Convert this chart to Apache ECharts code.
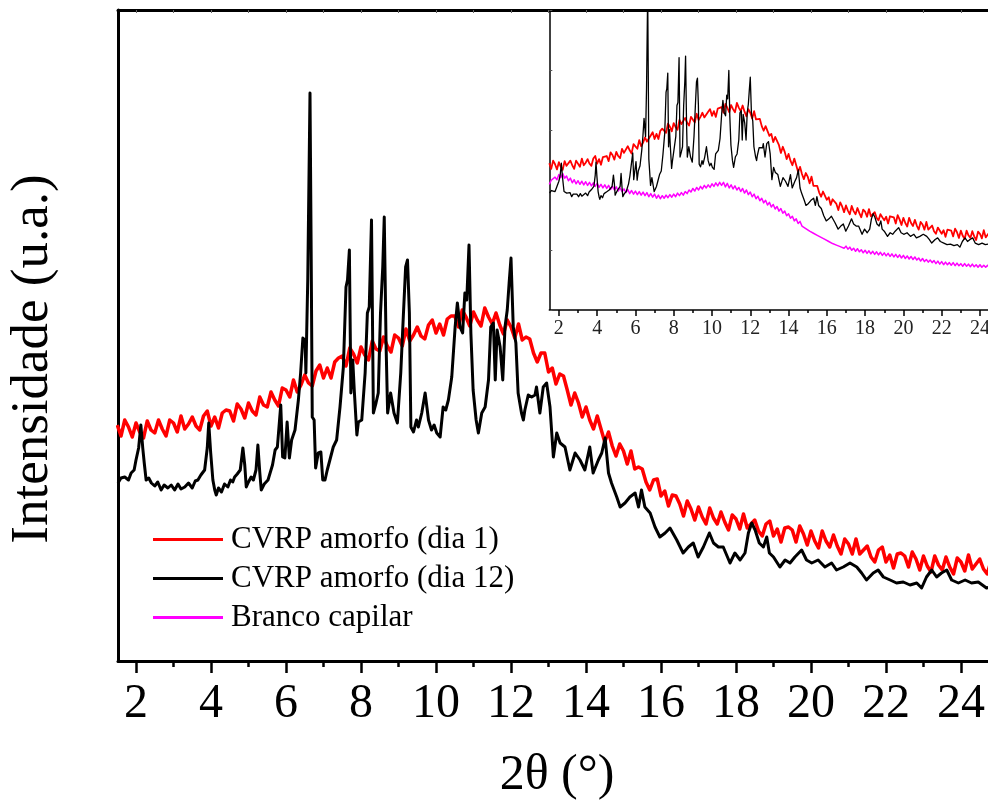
<!DOCTYPE html>
<html>
<head>
<meta charset="utf-8">
<script src="https://cdn.jsdelivr.net/npm/echarts@6/dist/echarts.min.js"></script>
<style>
  html, body { margin: 0; padding: 0; background: #fff; }
  #chart { width: 988px; height: 801px; }
</style>
</head>
<body>
<div id="chart"></div>
<script>
// Diffractograms: 2θ in degrees, intensity in arbitrary units
const angleStart = 1.5;   // first 2θ of the evenly sampled scans
const angleStep = 0.1;

// CVRP amorfo (dia 1), 1.5° .. 24.9° every 0.1°
const cvrpDay1 = [
  285, 274, 290, 283, 273, 287, 278, 272, 289, 280,
  277, 290, 281, 274, 290, 287, 278, 294, 281, 286,
  293, 284, 280, 294, 299, 284, 293, 282, 297, 300,
  299, 289, 306, 301, 292, 307, 299, 295, 313, 305,
  303, 318, 310, 304, 322, 320, 313, 330, 318, 325,
  335, 327, 324, 339, 345, 332, 342, 332, 348, 352,
  354, 344, 362, 356, 347, 363, 355, 350, 369, 361,
  359, 373, 364, 358, 375, 372, 364, 381, 369, 375,
  383, 374, 371, 385, 390, 377, 386, 375, 391, 394,
  394, 383, 400, 393, 384, 398, 390, 384, 402, 393,
  386, 397, 385, 376, 390, 383, 372, 386, 370, 373,
  371, 357, 348, 357, 357, 338, 342, 326, 336, 334,
  320, 305, 317, 307, 293, 303, 290, 281, 294, 281,
  268, 278, 264, 254, 266, 259, 246, 259, 241, 243,
  241, 228, 220, 230, 231, 214, 219, 204, 215, 214,
  206, 194, 209, 201, 190, 203, 193, 186, 202, 192,
  186, 198, 188, 180, 195, 191, 181, 196, 182, 186,
  190, 179, 174, 186, 189, 174, 181, 168, 182, 183,
  180, 168, 184, 176, 165, 179, 169, 162, 179, 169,
  163, 175, 164, 156, 171, 166, 156, 171, 156, 160,
  164, 153, 148, 160, 163, 148, 155, 142, 156, 157,
  154, 143, 158, 151, 140, 154, 144, 138, 154, 145,
  140, 153, 143, 136, 152, 148, 139, 155, 141, 146,
  151, 141, 136, 149, 153
];

// Branco capilar, same sampling
const blankCapillary = [
  244, 252, 249, 258, 253, 263, 257, 265, 256, 260,
  251, 256, 247, 253, 245, 251, 244, 250, 243, 249,
  242, 248, 241, 247, 240, 246, 238, 244, 237, 243,
  236, 242, 234, 240, 233, 239, 231, 237, 230, 235,
  228, 234, 226, 232, 225, 231, 224, 230, 223, 229,
  222, 228, 220, 226, 219, 225, 217, 223, 216, 222,
  217, 223, 218, 224, 219, 225, 220, 227, 222, 228,
  223, 230, 226, 233, 229, 236, 231, 238, 233, 240,
  235, 242, 237, 243, 238, 245, 240, 247, 241, 248,
  242, 248, 239, 246, 237, 243, 235, 241, 233, 238,
  230, 236, 227, 233, 224, 229, 220, 225, 216, 221,
  212, 217, 208, 213, 204, 209, 200, 205, 196, 201,
  192, 197, 188, 192, 183, 187, 178, 182, 173, 177,
  168, 172, 163, 166, 158, 161, 153, 156, 149, 151,
  145, 148, 141, 144, 137, 140, 133, 136, 129, 132,
  126, 129, 123, 126, 120, 124, 118, 122, 116, 120,
  114, 119, 113, 117, 111, 116, 110, 115, 109, 114,
  108, 113, 107, 112, 106, 111, 105, 110, 104, 109,
  103, 108, 102, 107, 101, 106, 100, 105, 99, 104,
  98, 103, 97, 101, 95, 100, 94, 98, 93, 97,
  92, 96, 90, 95, 89, 94, 88, 93, 88, 92,
  87, 92, 86, 91, 86, 90, 85, 90, 85, 89,
  84, 89, 84, 88, 83, 88, 83, 87, 83, 87,
  82, 87, 82, 86, 82
];

// CVRP amorfo (dia 12): unevenly sampled so the sharp reflections keep their tops
const cvrpDay12Angles = [
  1.52, 1.6, 1.7, 1.8, 1.87, 1.95, 2.0, 2.07, 2.13, 2.18, 2.22, 2.27, 2.34, 2.41, 2.5, 2.58,
  2.67, 2.75, 2.85, 2.94, 3.03, 3.12, 3.2, 3.3, 3.4, 3.5, 3.58, 3.65, 3.73, 3.83, 3.9, 3.94,
  3.99, 4.05, 4.1, 4.14, 4.2, 4.28, 4.36, 4.45, 4.52, 4.58, 4.63, 4.7, 4.78, 4.85, 4.9, 4.94,
  5.0, 5.07, 5.13, 5.2, 5.25, 5.3, 5.34, 5.42, 5.52, 5.57, 5.64, 5.71, 5.77, 5.86, 5.91, 5.97,
  6.03, 6.09, 6.15, 6.24, 6.33, 6.39, 6.45, 6.51, 6.53, 6.58, 6.64, 6.67, 6.7, 6.75, 6.79, 6.86,
  6.93, 6.98, 7.04, 7.1, 7.17, 7.26, 7.35, 7.44, 7.53, 7.6, 7.64, 7.69, 7.73, 7.78, 7.82, 7.89,
  7.93, 8.02, 8.11, 8.17, 8.22, 8.28, 8.33, 8.4, 8.46, 8.52, 8.58, 8.62, 8.67, 8.71, 8.79, 8.88,
  8.97, 9.06, 9.13, 9.19, 9.24, 9.29, 9.33, 9.4, 9.48, 9.53, 9.62, 9.71, 9.8, 9.88, 9.95, 10.02,
  10.11, 10.19, 10.26, 10.33, 10.42, 10.51, 10.57, 10.64, 10.71, 10.77, 10.82, 10.88, 10.93, 10.99, 11.07, 11.13,
  11.22, 11.31, 11.4, 11.46, 11.53, 11.58, 11.63, 11.71, 11.78, 11.84, 11.9, 11.95, 12.0, 12.06, 12.13, 12.19,
  12.28, 12.33, 12.37, 12.46, 12.55, 12.64, 12.68, 12.77, 12.86, 12.95, 13.04, 13.13, 13.22, 13.31, 13.44, 13.57,
  13.71, 13.84, 13.97, 14.1, 14.19, 14.33, 14.42, 14.51, 14.6, 14.68, 14.82, 14.91, 15.04, 15.17, 15.31, 15.4,
  15.48, 15.57, 15.71, 15.84, 15.97, 16.11, 16.24, 16.42, 16.59, 16.73, 16.86, 16.99, 17.13, 17.29, 17.4, 17.53,
  17.66, 17.84, 17.97, 18.11, 18.24, 18.33, 18.42, 18.51, 18.62, 18.73, 18.82, 18.89, 19.0, 19.17, 19.31, 19.44,
  19.57, 19.75, 19.88, 20.02, 20.19, 20.37, 20.55, 20.68, 20.86, 21.04, 21.22, 21.35, 21.48, 21.66, 21.79, 21.93,
  22.11, 22.28, 22.46, 22.64, 22.82, 22.95, 23.08, 23.22, 23.35, 23.48, 23.62, 23.75, 23.93, 24.11, 24.28, 24.46,
  24.68, 24.9
];
const cvrpDay12 = [
  227, 232, 233, 230, 237, 240, 250, 262, 285, 262, 247, 230, 232, 227, 224, 228,
  220, 225, 222, 225, 220, 226, 221, 223, 227, 222, 229, 230, 235, 240, 262, 287,
  258, 230, 220, 215, 222, 218, 226, 223, 230, 228, 233, 236, 240, 262, 245, 223,
  228, 233, 230, 240, 265, 238, 220, 226, 230, 232, 245, 260, 263, 305, 253, 252,
  288, 252, 270, 280, 310, 337, 372, 370, 337, 430, 617, 463, 293, 290, 242, 257,
  258, 230, 230, 240, 250, 263, 270, 303, 343, 423, 430, 460, 317, 350, 320, 275,
  288, 290, 337, 397, 403, 490, 297, 307, 317, 397, 443, 493, 363, 297, 317, 297,
  287, 337, 395, 443, 450, 397, 283, 278, 290, 283, 297, 317, 290, 280, 285, 277,
  273, 303, 300, 310, 333, 383, 407, 383, 377, 417, 410, 465, 377, 320, 290, 277,
  297, 303, 330, 383, 387, 330, 380, 363, 330, 383, 400, 427, 452, 383, 367, 317,
  297, 290, 300, 315, 313, 315, 323, 297, 323, 327, 303, 253, 277, 267, 263, 240,
  257, 250, 240, 263, 237, 250, 257, 272, 237, 227, 213, 203, 207, 213, 217, 203,
  220, 203, 197, 183, 173, 177, 182, 170, 157, 163, 167, 153, 163, 177, 167, 163,
  163, 147, 157, 150, 157, 177, 187, 180, 167, 163, 173, 157, 153, 143, 150, 147,
  153, 160, 150, 147, 150, 143, 147, 140, 143, 147, 143, 137, 130, 137, 140, 133,
  130, 127, 128, 125, 127, 122, 133, 140, 133, 137, 140, 130, 127, 130, 127, 128,
  122, 124
];

const majorTicks = [2, 4, 6, 8, 10, 12, 14, 16, 18, 20, 22, 24];
const minorTicks = [3, 5, 7, 9, 11, 13, 15, 17, 19, 21, 23, 25];
const topTicks = [2, 3, 4, 5, 6, 7, 8, 9, 10, 11, 12, 13, 14, 15, 16, 17, 18, 19, 20, 21, 22, 23, 24, 25];

const seriesNames = ['CVRP amorfo (dia 1)', 'CVRP amorfo (dia 12)', 'Branco capilar'];
const seriesColors = ['#ff0000', '#000000', '#ff00ff'];

const xLabel = '2\u03b8 (\u00b0)';
const yLabel = 'Intensidade (u.a.)';

// ---- build point lists ----
const even = arr => arr.map((v, i) => [+(angleStart + i * angleStep).toFixed(2), v]);
const day1Pts = even(cvrpDay1);
const blankPts = even(blankCapillary);
const day12Pts = cvrpDay12Angles.map((a, i) => [a, cvrpDay12[i]]);

const SERIF = "'Liberation Serif', 'Times New Roman', serif";

// main panel: 2θ 1.52..25, inset panel: 1.5..25 (both run past the right edge)
const mainX = { min: 1.52, max: 25 };
const insetX = { min: 1.5, max: 25 };

function lineSeries(name, data, color, width, xIdx, yIdx, z) {
  return {
    type: 'line', name, data, xAxisIndex: xIdx, yAxisIndex: yIdx,
    showSymbol: false, symbol: 'none', sampling: null, z,
    lineStyle: { color, width, join: 'round' },
    itemStyle: { color },
    clip: true, silent: true
  };
}

const chart = echarts.init(document.getElementById('chart'), null, { renderer: 'canvas' });

chart.setOption({
  animation: false,
  backgroundColor: '#ffffff',
  grid: [
    { left: 118, top: 10, width: 880.5, height: 651, outerBoundsMode: 'none', containLabel: false },
    { left: 549.3, top: 10, width: 449.8, height: 300, outerBoundsMode: 'none', containLabel: false }
  ],
  xAxis: [
    { // main bottom: labels and major ticks
      type: 'value', gridIndex: 0, position: 'bottom', ...mainX,
      axisLine: { show: true, lineStyle: { color: '#000', width: 3 } },
      axisTick: { show: true, inside: false, length: 12, lineStyle: { color: '#000', width: 2.5 }, customValues: majorTicks },
      axisLabel: { show: true, customValues: majorTicks, margin: 19, color: '#000', fontFamily: SERIF, fontSize: 48 },
      splitLine: { show: false }
    },
    { // main bottom: minor ticks
      type: 'value', gridIndex: 0, position: 'bottom', ...mainX,
      axisLine: { show: false },
      axisTick: { show: true, inside: false, length: 6, lineStyle: { color: '#000', width: 2.5 }, customValues: minorTicks },
      axisLabel: { show: false }, splitLine: { show: false }
    },
    { // main top border
      type: 'value', gridIndex: 0, position: 'top', ...mainX,
      axisLine: { show: true, lineStyle: { color: '#000', width: 3 } },
      axisTick: { show: true, inside: true, length: 3, lineStyle: { color: '#666', width: 1 }, customValues: topTicks },
      axisLabel: { show: false }, splitLine: { show: false }
    },
    { // inset bottom
      type: 'value', gridIndex: 1, position: 'bottom', ...insetX,
      axisLine: { show: true, lineStyle: { color: '#000', width: 1.5 } },
      axisTick: { show: true, inside: false, length: 6, lineStyle: { color: '#000', width: 1.5 }, customValues: majorTicks },
      axisLabel: { show: true, customValues: majorTicks, margin: 9, color: '#222', fontFamily: SERIF, fontSize: 20 },
      splitLine: { show: false }
    },
    { // inset minor ticks
      type: 'value', gridIndex: 1, position: 'bottom', ...insetX,
      axisLine: { show: false },
      axisTick: { show: true, inside: false, length: 3, lineStyle: { color: '#000', width: 1.5 }, customValues: minorTicks },
      axisLabel: { show: false }, splitLine: { show: false }
    }
  ],
  yAxis: [
    {
      type: 'value', gridIndex: 0, position: 'left', min: 49, max: 700,
      axisLine: { show: true, onZero: false, lineStyle: { color: '#000', width: 3 } },
      axisTick: { show: false }, axisLabel: { show: false }, splitLine: { show: false }
    },
    {
      type: 'value', gridIndex: 1, position: 'left', min: 0, max: 582.5, interval: 116.5,
      axisLine: { show: true, onZero: false, lineStyle: { color: '#000', width: 1.5 } },
      axisTick: { show: true, inside: true, length: 3, lineStyle: { color: '#555', width: 1 } },
      axisLabel: { show: false }, splitLine: { show: false }
    }
  ],
  legend: {
    show: true, orient: 'vertical', left: 153, top: 520, padding: 0,
    data: seriesNames,
    icon: 'rect', itemWidth: 70, itemHeight: 3, itemGap: 0,
    selectedMode: false,
    textStyle: { fontFamily: SERIF, fontSize: 31, color: '#000', lineHeight: 39, padding: [0, 0, 0, 3] }
  },
  series: [
    lineSeries(seriesNames[0], day1Pts, seriesColors[0], 3.5, 0, 0, 2),
    lineSeries(seriesNames[1], day12Pts, seriesColors[1], 3, 0, 0, 3),
    lineSeries(seriesNames[2], blankPts, seriesColors[2], 1.5, 3, 1, 2),
    lineSeries(seriesNames[0], day1Pts, seriesColors[0], 1.8, 3, 1, 3),
    lineSeries(seriesNames[1], day12Pts, seriesColors[1], 1.3, 3, 1, 4)
  ],
  graphic: [
    {
      type: 'text', x: 557, y: 776,
      style: { text: xLabel, fontFamily: SERIF, fontSize: 50, fill: '#000', align: 'center', verticalAlign: 'middle' }
    },
    {
      type: 'text', x: 33, y: 359, rotation: Math.PI / 2,
      style: { text: yLabel, fontFamily: SERIF, fontSize: 53, fill: '#000', align: 'center', verticalAlign: 'middle' }
    }
  ]
});
</script>
</body>
</html>
